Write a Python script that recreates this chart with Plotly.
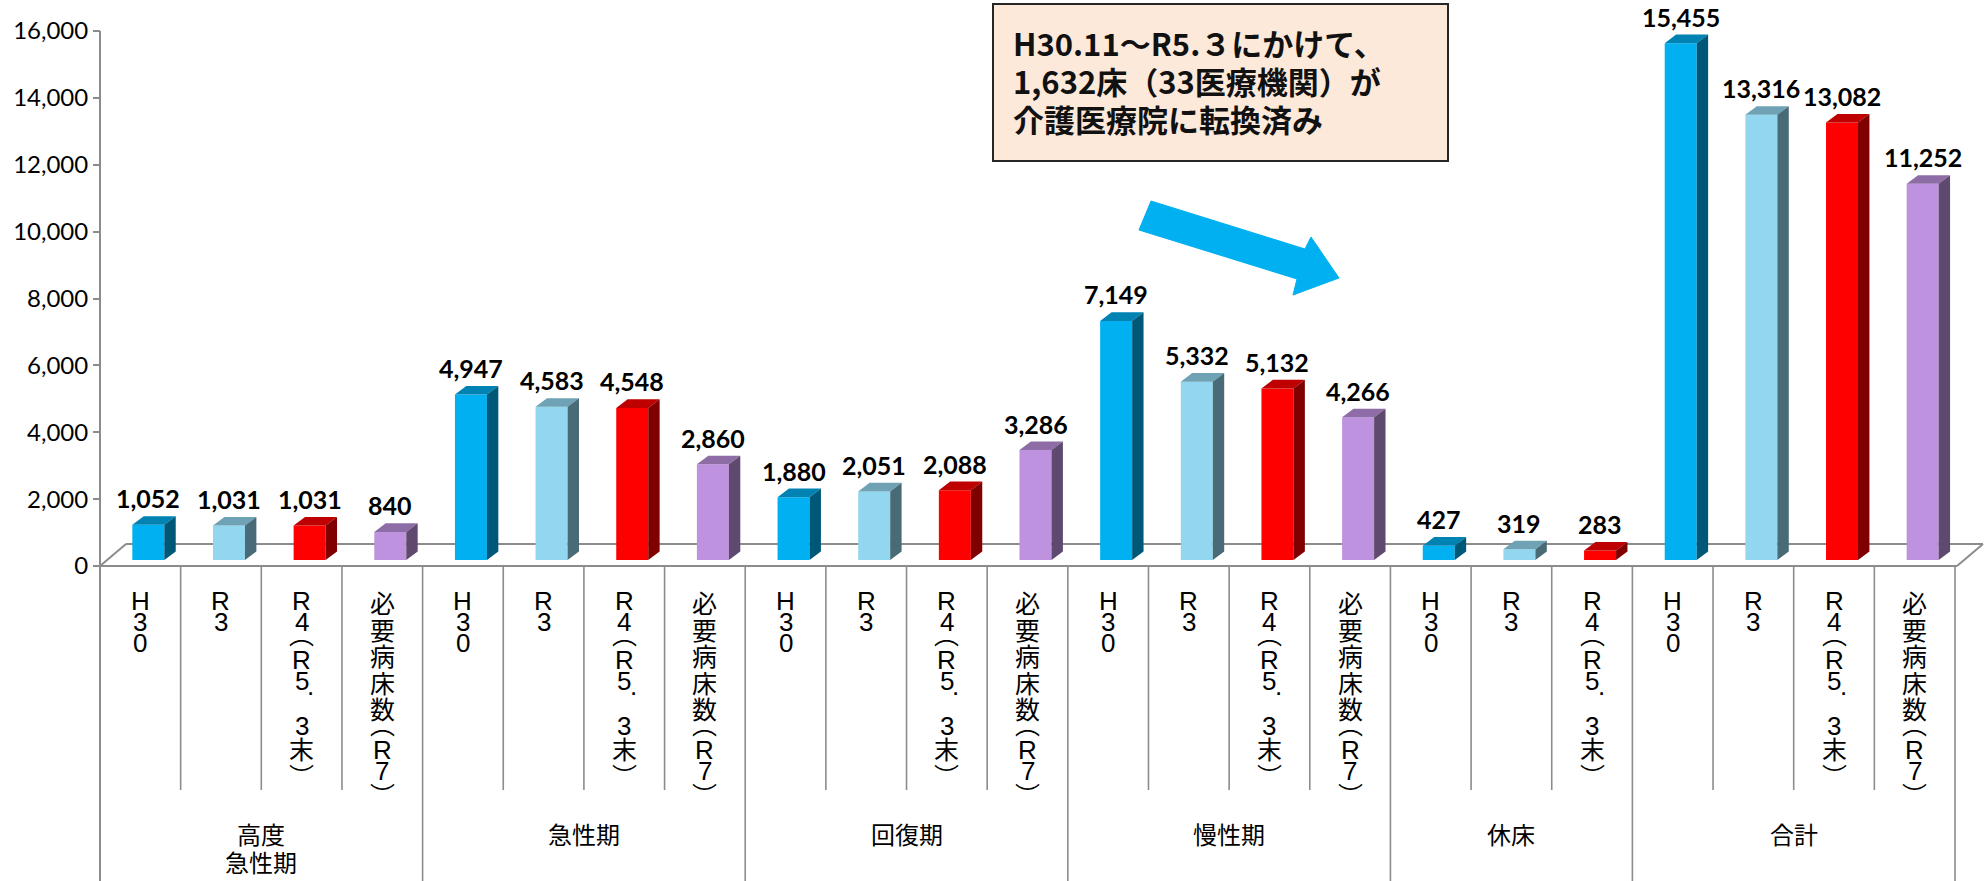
import plotly.graph_objects as go

# ---------------- data ----------------
group_lines = [["高度", "急性期"], ["急性期"], ["回復期"], ["慢性期"], ["休床"], ["合計"]]
series_labels = ["H30", "R3", "R4（R5.3末）", "必要病床数（R7）"]
h30 = [1052, 4947, 1880, 7149, 427, 15455]
r3 = [1031, 4583, 2051, 5332, 319, 13316]
r4 = [1031, 4548, 2088, 5132, 283, 13082]
need_r7 = [840, 2860, 3286, 4266, None, 11252]
y_ticks = [0, 2000, 4000, 6000, 8000, 10000, 12000, 14000, 16000]
callout_lines = ["H30.11～R5.３にかけて、", "1,632床（33医療機関）が", "介護医療院に転換済み"]

front_colors = ["#00B0F0", "#92D7EF", "#FF0000", "#BE92DE"]
top_colors = ["#0083B3", "#6EA2B4", "#BF0000", "#8E6DA6"]
side_colors = ["#005878", "#496B77", "#800000", "#5F496F"]
grid_color = "#8C8C8C"

series = [h30, r3, r4, need_r7]

# ---------------- layout geometry (pixels) ----------------
FIG_W, FIG_H = 1987, 881
X0 = 100            # left edge of category area
X1 = 1955           # right edge of category area
Y0 = 566            # pixel of value 0
YTOP = 31           # pixel of value 16000
N = sum(1 for s in series for v in s if v is not None)
W = (X1 - X0) / N
K = (Y0 - YTOP) / 16000.0


def xd(px):
    return (px - X0) / W - 0.5


def yd(py):
    return (Y0 - py) / K


SHIFT = 8 / W
BW = 32 / W
DX = 11.4 / W
DY = 8.6 / K
BASE = 6 / K
FLOOR_DX = 26 / W
FLOOR_DY = 22 / K

# ---------------- bar list ----------------
bars = []
group_ranges = []
idx = 0
for g in range(len(group_lines)):
    start = idx
    for s in range(4):
        v = series[s][g]
        if v is None:
            continue
        bars.append((idx, s, v))
        idx += 1
    group_ranges.append((start, idx - 1))

fig = go.Figure()

shapes = []
annotations = []

# floor
fl = dict(type="line", xref="x", yref="y", layer="below", line=dict(color=grid_color, width=2))
x_left, x_right = -0.5, N - 0.5 + 2 / W
shapes.append({**fl, "x0": x_left, "y0": 0, "x1": x_right, "y1": 0})
shapes.append({**fl, "x0": x_left + FLOOR_DX, "y0": FLOOR_DY, "x1": x_right + FLOOR_DX, "y1": FLOOR_DY})
shapes.append({**fl, "x0": x_left, "y0": 0, "x1": x_left + FLOOR_DX, "y1": FLOOR_DY})
shapes.append({**fl, "x0": x_right, "y0": 0, "x1": x_right + FLOOR_DX, "y1": FLOOR_DY})

# y axis line
shapes.append({**fl, "x0": x_left, "y0": 16000, "x1": x_left, "y1": yd(FIG_H)})

# dividers
group_bounds = set([0] + [e + 1 for (_, e) in group_ranges])
for k in range(1, N + 1):
    bottom = yd(FIG_H) if k in group_bounds else yd(790)
    shapes.append({**fl, "x0": k - 0.5, "y0": 0, "x1": k - 0.5, "y1": bottom,
                   "line": dict(color=grid_color, width=1.6)})

# front faces
for s in range(4):
    xs = [b[0] for b in bars if b[1] == s]
    vs = [b[2] for b in bars if b[1] == s]
    fig.add_trace(go.Bar(x=xs, y=vs, base=[BASE] * len(xs), width=BW,
                         offset=SHIFT - BW / 2,
                         marker=dict(color=front_colors[s], line=dict(width=0)),
                         showlegend=False, hoverinfo="skip"))

# top and side faces
for s in range(4):
    tx, ty, sx, sy = [], [], [], []
    for (i, ss, v) in bars:
        if ss != s:
            continue
        xl = i + SHIFT - BW / 2
        xr = i + SHIFT + BW / 2
        t = BASE + v
        tx += [xl, xr, xr + DX, xl + DX, xl, None]
        ty += [t, t, t + DY, t + DY, t, None]
        sx += [xr, xr, xr + DX, xr + DX, xr, None]
        sy += [BASE, t, t + DY, BASE + DY, BASE, None]
    fig.add_trace(go.Scatter(x=tx, y=ty, mode="lines", fill="toself", fillcolor=top_colors[s],
                             line=dict(width=0, color=top_colors[s]), showlegend=False, hoverinfo="skip"))
    fig.add_trace(go.Scatter(x=sx, y=sy, mode="lines", fill="toself", fillcolor=side_colors[s],
                             line=dict(width=0, color=side_colors[s]), showlegend=False, hoverinfo="skip"))

# data labels
for (i, s, v) in bars:
    annotations.append(dict(x=i + SHIFT, y=BASE + v + DY, xref="x", yref="y",
                            text="<b>{:,}</b>".format(v), showarrow=False, yanchor="bottom",
                            yshift=1, font=dict(family="Lato", size=25, color="black")))

# stacked category labels
cjk_font = dict(family="Noto Sans CJK JP", size=25, color="black")
lat_font = dict(family="Liberation Sans", size=26, color="black")
for (i, s, v) in bars:
    cursor = 589
    for ch in series_labels[s]:
        xshift = 0
        font = cjk_font
        if ch == "（":
            h = 17
            glyph = "︵"
            cy = cursor + h / 2 - 7
        elif ch == "）":
            h = 17
            glyph = "︶"
            cy = cursor + h / 2 + 5
        elif ch == ".":
            h = 24
            glyph = "."
            cy = cursor - 4
            xshift = 9
            font = lat_font
        elif ord(ch) > 0x2E80:
            h = 26.5
            glyph = ch
            cy = cursor + h / 2
        else:
            h = 21
            glyph = ch
            cy = cursor + h / 2 + 1
            font = lat_font
        annotations.append(dict(x=i, y=yd(cy), xref="x", yref="y", text=glyph, showarrow=False,
                                xanchor="center", yanchor="middle", xshift=xshift, font=font))
        cursor += h

# group labels
grp_font = dict(family="Noto Sans CJK JP", size=24, color="black")
for g, (a, b) in enumerate(group_ranges):
    cx = (a + b) / 2
    for li, line in enumerate(group_lines[g]):
        if li == 0:
            annotations.append(dict(x=cx, y=yd(833), xref="x", yref="y", text=line,
                                    showarrow=False, xanchor="center", yanchor="middle", font=grp_font))
        else:
            annotations.append(dict(x=cx, y=yd(FIG_H), xref="x", yref="y", text=line,
                                    showarrow=False, xanchor="center", yanchor="bottom", font=grp_font))

# callout box
shapes.append(dict(type="rect", xref="x", yref="y", x0=xd(993), x1=xd(1448), y0=yd(4), y1=yd(161),
                   fillcolor="#FDE9D9", line=dict(color="#262626", width=2), layer="above"))
for li, line in enumerate(callout_lines):
    annotations.append(dict(x=xd(1011), y=yd(42 + 38.3 * li), xref="x", yref="y", text="<b>" + line + "</b>",
                            showarrow=False, xanchor="left", yanchor="middle",
                            font=dict(family="Noto Sans CJK JP", size=31, color="#111111")))

# arrow
arrow_px = [(1151, 201), (1305, 249), (1311, 237), (1339, 278), (1293, 295), (1297, 279), (1139, 230)]
path = "M " + " L ".join("{:.4f},{:.4f}".format(xd(px), yd(py)) for px, py in arrow_px) + " Z"
shapes.append(dict(type="path", xref="x", yref="y", path=path, fillcolor="#00B0F0",
                   line=dict(color="#00B0F0", width=1), layer="above"))

fig.update_layout(
    width=FIG_W, height=FIG_H,
    margin=dict(l=0, r=0, t=0, b=0),
    plot_bgcolor="white", paper_bgcolor="white",
    barmode="overlay",
    hovermode=False,
    showlegend=False,
    xaxis=dict(range=[xd(0), xd(FIG_W)], visible=False, fixedrange=True),
    yaxis=dict(range=[yd(FIG_H), yd(0)], anchor="free", position=X0 / FIG_W,
               tickvals=y_ticks, ticktext=["{:,}".format(t) for t in y_ticks],
               ticks="outside", ticklen=7, tickwidth=2, tickcolor=grid_color,
               showline=False, showgrid=False, zeroline=False, automargin=False,
               tickfont=dict(family="Lato", size=24, color="black"), fixedrange=True),
    shapes=shapes,
    annotations=annotations,
)

fig.write_html("out.html", config={"displayModeBar": False},
               post_script="document.body.style.margin='0';document.body.style.overflow='hidden';")
